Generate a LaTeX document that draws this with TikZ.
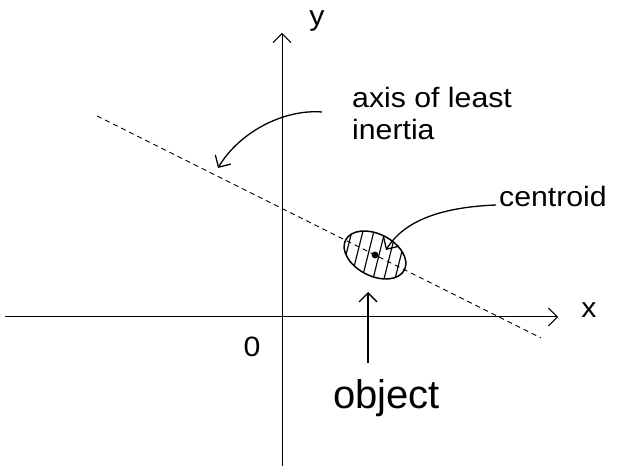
\documentclass[tikz,border=0pt]{standalone}
\usepackage{fontspec}
\setmainfont{Liberation Sans}
\newfontfamily\lblfont[FakeStretch=1.08]{Liberation Sans}
\usetikzlibrary{arrows.meta,calc}
\begin{document}
\begin{tikzpicture}[x=1pt,y=1pt,
  lbl/.style={inner sep=0pt, anchor=base west, font=\lblfont\fontsize{28}{30}\selectfont},
  tipst/.style={-{Straight Barb[length=9pt,width=18pt]}},
  axisline/.style={line width=1pt, tipst},
  callout/.style={line width=1.3pt, tipst}]
\useasboundingbox (0,0) rectangle (626,471);
% axes
\coordinate (xl) at (5,154);
\coordinate (xr) at (558,154);
\coordinate (yb) at (282,5);
\coordinate (yt) at (282,438);
\draw[axisline] (xl) -- (xr);
\draw[axisline] (yb) -- (yt);
\node[lbl, anchor=center] (ylab) at (317,450) {y};
\node[lbl, anchor=center] (xlab) at (589,161) {x};
\node[lbl, anchor=center] (zero) at (252,124) {0};
% axis of least inertia
\coordinate (ds) at (97,355);
\coordinate (de) at (541,133);
\draw[line width=0.9pt, dash pattern=on 5pt off 4pt] (ds) -- (de);
% object
\coordinate (c) at (375,216);
\begin{scope}
  \clip (c) ellipse[x radius=33, y radius=21, rotate=-27];
  \foreach \i in {-40,-29,...,40}
    \draw[line width=1.2pt] ($(c)+(\i,0)+(10,40)$) -- ($(c)+(\i,0)+(-10,-40)$);
\end{scope}
\draw[line width=1.5pt] (c) ellipse[x radius=33, y radius=21, rotate=-27];
\fill (c) circle[radius=3.4];
% labels
\node[lbl] (al1) at (352,363) {axis of least};
\node[lbl] (al2) at (352,331) {inertia};
\node[lbl] (cen) at (499,264) {centroid};
\node[lbl, font=\fontsize{40}{42}\selectfont] (obj) at (333,63) {object};
% callouts
\coordinate (a1) at (322,359);
\coordinate (a2) at (218,303);
\draw[callout] (a1) .. controls (285,362) and (240,340) .. (a2);
\coordinate (c1) at (496,266);
\coordinate (c2) at (386,221);
\draw[callout] (c1) .. controls (445,264) and (405,252) .. (c2);
\coordinate (o1) at (368,108);
\coordinate (o2) at (368,179);
\draw[callout] (o1) -- (o2);
\end{tikzpicture}
\end{document}
